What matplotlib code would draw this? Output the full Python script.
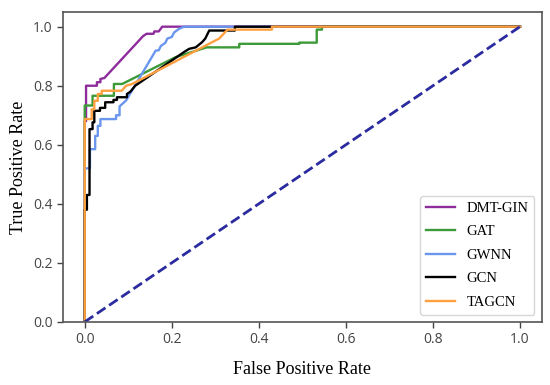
import matplotlib
matplotlib.use('Agg')
import matplotlib.pyplot as plt

# ROC points (fpr, tpr)
dmt_fpr = [0, 0, 0.003, 0.003, 0.028, 0.028, 0.036, 0.036, 0.045, 0.134, 0.142, 0.158, 0.16, 0.17, 0.178, 1.0]
dmt_tpr = [0, 0.68, 0.68, 0.80, 0.80, 0.812, 0.812, 0.823, 0.826, 0.968, 0.976, 0.976, 0.984, 0.984, 1.0, 1.0]

gat_fpr = [0, 0, 0.018, 0.018, 0.067, 0.067, 0.086, 0.209, 0.263, 0.28, 0.355, 0.355, 0.493, 0.493, 0.533, 0.533, 0.545, 0.545, 1.0]
gat_tpr = [0, 0.733, 0.733, 0.766, 0.766, 0.806, 0.806, 0.897, 0.922, 0.93, 0.93, 0.942, 0.942, 0.946, 0.946, 0.99, 0.99, 1.0, 1.0]

gwnn_fpr = [0, 0, 0.012, 0.012, 0.024, 0.024, 0.03, 0.03, 0.036, 0.036, 0.072, 0.072, 0.08, 0.08, 0.095,
            0.163, 0.17, 0.175, 0.185, 0.19, 0.2, 0.205, 0.217, 0.228, 1.0]
gwnn_tpr = [0, 0.52, 0.52, 0.585, 0.585, 0.63, 0.63, 0.664, 0.664, 0.687, 0.687, 0.70, 0.70, 0.73, 0.75,
            0.919, 0.92, 0.935, 0.945, 0.96, 0.965, 0.98, 0.993, 1.0, 1.0]

gcn_fpr = [0, 0, 0.005, 0.005, 0.011, 0.011, 0.018, 0.018, 0.022, 0.022, 0.035, 0.035, 0.047, 0.047, 0.066, 0.066,
           0.074, 0.074, 0.097, 0.097, 0.105, 0.116, 0.228, 0.24, 0.255, 0.27, 0.277, 0.286, 0.345, 0.345, 1.0]
gcn_tpr = [0, 0.38, 0.38, 0.43, 0.43, 0.653, 0.653, 0.676, 0.676, 0.715, 0.715, 0.725, 0.725, 0.744, 0.744, 0.752,
           0.752, 0.761, 0.761, 0.772, 0.78, 0.80, 0.914, 0.925, 0.93, 0.948, 0.96, 0.987, 0.987, 1.0, 1.0]

tagcn_fpr = [0, 0, 0.016, 0.016, 0.022, 0.022, 0.03, 0.03, 0.039, 0.039, 0.085, 0.095, 0.109, 0.309, 0.328, 0.43, 0.43, 1.0]
tagcn_tpr = [0, 0.687, 0.687, 0.72, 0.72, 0.749, 0.749, 0.772, 0.772, 0.783, 0.783, 0.80, 0.806, 0.96, 0.99, 0.99, 1.0, 1.0]

names = ['DMT-GIN', 'GAT', 'GWNN', 'GCN', 'TAGCN']
colors = ['#8E2C9C', '#3C9A38', '#6A96EE', 'black', '#FFA040']

fig = plt.figure(figsize=(5.5, 3.85), dpi=100)
ax = fig.add_axes([0.1145, 0.164, 0.8705, 0.805])

curves = [(dmt_fpr, dmt_tpr), (gat_fpr, gat_tpr), (gwnn_fpr, gwnn_tpr), (gcn_fpr, gcn_tpr), (tagcn_fpr, tagcn_tpr)]
for (fx, ty), nm, c in zip(curves, names, colors):
    ax.plot(fx, ty, color=c, lw=1.7, label=nm)

ax.plot([0, 1], [0, 1], color='#2B2BA0', lw=2, linestyle='--')

ax.set_xlim(-0.05, 1.05)
ax.set_ylim(0.0, 1.05)
ax.set_xticks([0.0, 0.2, 0.4, 0.6, 0.8, 1.0])
ax.set_yticks([0.0, 0.2, 0.4, 0.6, 0.8, 1.0])
ax.tick_params(labelsize=10, colors='#444444', length=4, width=1)
for lab in ax.get_xticklabels() + ax.get_yticklabels():
    lab.set_family('Open Sans')
for s in ax.spines.values():
    s.set_color('#555555')
    s.set_linewidth(1.2)

ax.set_xlabel('False Positive Rate', family='Liberation Serif', fontsize=13, labelpad=10)
ax.set_ylabel('True Positive Rate', family='Liberation Serif', fontsize=13, labelpad=4)

leg = ax.legend(loc='lower right', prop={'family': 'Liberation Serif', 'size': 10.5},
                labelspacing=0.7, framealpha=0.8, edgecolor='#cccccc')

fig.savefig('out.png', dpi=100)
